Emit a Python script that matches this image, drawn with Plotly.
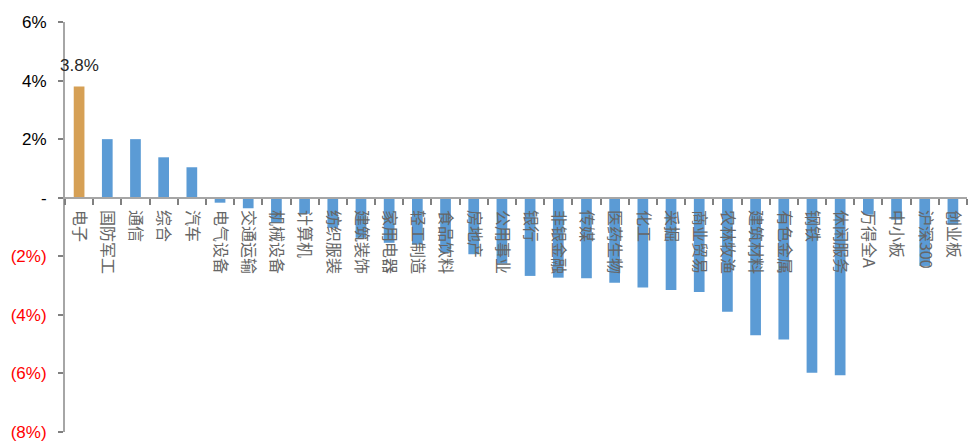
import plotly.graph_objects as go

categories = ["电子", "国防军工", "通信", "综合", "汽车", "电气设备", "交通运输", "机械设备",
              "计算机", "纺织服装", "建筑装饰", "家用电器", "轻工制造", "食品饮料", "房地产",
              "公用事业", "银行", "非银金融", "传媒", "医药生物", "化工", "采掘", "商业贸易",
              "农林牧渔", "建筑材料", "有色金属", "钢铁", "休闲服务", "万得全A", "中小板",
              "沪深300", "创业板"]
values = [3.8, 2.0, 2.0, 1.38, 1.04, -0.17, -0.36, -0.86,
          -0.55, -1.03, -1.37, -1.54, -1.6, -1.88, -1.93,
          -2.25, -2.67, -2.73, -2.75, -2.9, -3.07, -3.15, -3.22,
          -3.89, -4.7, -4.84, -5.98, -6.06, -0.58, -0.75,
          -2.33, -0.92]
highlight_label = "3.8%"
y_tickvals = [6, 4, 2, 0, -2, -4, -6, -8]
y_ticktext = ["6%", "4%", "2%", "-", "(2%)", "(4%)", "(6%)", "(8%)"]

ORANGE = "#D6A055"
BLUE = "#5B9BD5"
colors = [ORANGE] + [BLUE] * (len(categories) - 1)

ticktext_colored = []
for v, t in zip(y_tickvals, y_ticktext):
    c = "#FF0000" if v < 0 else "#000000"
    ticktext_colored.append(f'<span style="color:{c}">{t}</span>')

fig = go.Figure()
fig.add_trace(go.Bar(
    x=categories, y=values, marker=dict(color=colors, line=dict(width=0)),
    width=0.38, showlegend=False, hoverinfo="x+y",
))

fig.add_annotation(x=categories[0], y=values[0], text=highlight_label, showarrow=False,
                   yshift=21, font=dict(family="Liberation Sans", size=17, color="#262626"))

ymin, ymax = -8, 6
fig.update_layout(
    width=969, height=444,
    margin=dict(l=65, r=2, t=22, b=10),
    plot_bgcolor="white", paper_bgcolor="white",
    bargap=0.62,
    xaxis=dict(
        type="category", range=[-0.5, len(categories) - 0.5],
        anchor="free", position=(0 - ymin) / (ymax - ymin),
        showline=True, linecolor="#A6A6A6", linewidth=2,
        ticks="outside", tickson="boundaries", ticklen=6, tickcolor="#808080", tickwidth=1.5,
        tickangle=90, ticklabelstandoff=8,
        tickfont=dict(family="Noto Sans CJK SC", size=16, color="#666666"),
        showgrid=False, zeroline=False,
    ),
    yaxis=dict(
        range=[ymin, ymax],
        tickvals=y_tickvals, ticktext=ticktext_colored,
        showline=True, linecolor="#A6A6A6", linewidth=2,
        ticks="outside", ticklen=5, tickcolor="#808080", tickwidth=1.5,
        ticklabelstandoff=8,
        tickfont=dict(family="Liberation Sans", size=17, color="#000000"),
        showgrid=False, zeroline=False,
    ),
)

fig.write_html("out.html")
